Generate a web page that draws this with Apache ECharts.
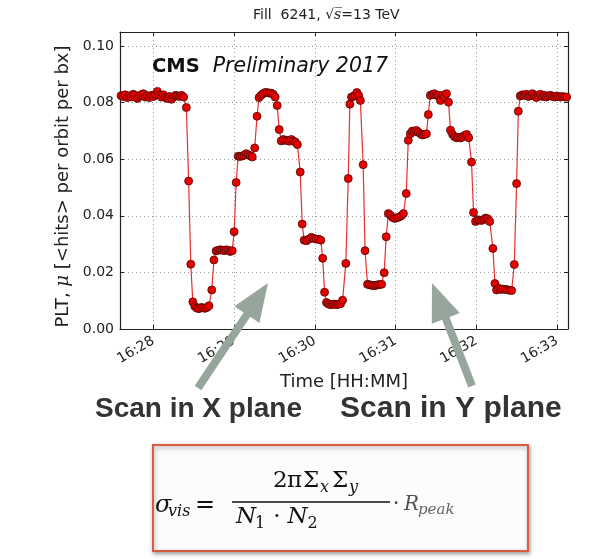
<!DOCTYPE html>
<html>
<head>
<meta charset="utf-8">
<script src="https://cdn.jsdelivr.net/npm/echarts@6/dist/echarts.min.js"></script>
<style>
  html, body { margin: 0; padding: 0; background: #fff; }
  #chart { width: 616px; height: 559px; }
</style>
</head>
<body>
<div id="chart"></div>
<script>
// seconds after 16:28:00
const timeSec = [
  -24.0, -22.5, -21.0, -19.5, -18.0, -16.5, -15.0, -13.5, -12.0, -10.5, -9.0, -7.5, -6.0, -4.5, -3.0, -1.5,
  0.0, 1.5, 3.0, 4.5, 6.0, 7.5, 9.0, 10.5, 12.0, 13.5, 15.0, 16.5, 18.0, 19.5, 21.0, 22.5,
  24.5, 26.2, 27.8, 29.3,
  30.8, 32.3, 33.8, 35.3, 36.8, 38.3, 39.8, 41.3,
  43.4, 45.0,
  46.6, 48.1, 49.6, 51.1, 52.6, 54.1, 55.6, 57.1, 58.6,
  60.0, 61.5,
  63.0, 64.5, 66.0, 67.5, 69.0, 70.5, 72.0, 73.5,
  75.3, 77.0,
  78.5, 80.0, 81.5, 83.0, 84.5, 86.0, 87.5, 89.0, 90.5,
  92.0, 93.5,
  95.0, 96.5, 98.0, 99.5, 101.0, 102.5, 104.0, 105.5, 107.0,
  109.1, 110.6,
  112.0, 113.8, 115.6, 117.4, 119.2, 121.0, 122.8, 124.4,
  125.8, 127.2,
  128.6, 130.1, 131.6, 133.1, 134.6, 136.1, 137.6, 139.1, 140.6,
  143.0, 144.8, 146.0,
  147.2, 148.5, 149.8, 151.2, 152.5, 153.8,
  155.9, 157.3,
  159.1, 160.6, 162.1, 163.6, 165.1, 166.6, 168.1, 169.6,
  171.5, 173.0,
  174.6, 176.2, 177.8, 179.4, 181.0, 182.6, 184.2, 185.8,
  187.9,
  189.4, 190.9, 192.4, 193.9, 195.4, 196.9, 198.4, 199.9, 201.4, 202.9,
  204.3,
  205.8, 207.3, 208.8, 210.3, 211.8, 213.3, 214.8, 216.3, 217.8, 219.3,
  220.8,
  222.3, 223.8, 225.3, 226.8, 228.3, 229.8, 231.3, 232.8, 234.3,
  236.4, 237.9,
  239.4, 240.9, 242.4, 243.9, 245.4, 246.9, 248.4, 249.9,
  252.3, 253.8,
  255.0, 256.6, 258.2, 259.8, 261.4, 263.0, 264.6, 266.2,
  268.2, 269.9, 271.2,
  272.6, 274.1, 275.6, 277.1, 278.6, 280.1, 281.6, 283.1, 284.6, 286.1, 287.6, 289.1,
  290.6, 292.1, 293.6, 295.1, 296.6, 298.1, 299.6, 301.1, 302.6, 304.1, 305.6, 307.1
]

// PLT mu values
const muVals = [
  0.0825, 0.0822, 0.0828, 0.0818, 0.0824, 0.0820, 0.0830, 0.0826, 0.0815, 0.0822, 0.0828, 0.0832, 0.0820, 0.0825, 0.0818, 0.0826,
  0.0822, 0.0830, 0.0840, 0.0826, 0.0820, 0.0828, 0.0818, 0.0815, 0.0822, 0.0812, 0.0820, 0.0826, 0.0824, 0.0822, 0.0826, 0.0820,
  0.0783, 0.0523, 0.0229, 0.0096,
  0.0080, 0.0074, 0.0072, 0.0076, 0.0075, 0.0073, 0.0076, 0.0082,
  0.0138, 0.0244,
  0.0276, 0.0278, 0.0280, 0.0279, 0.0277, 0.0280, 0.0278, 0.0274, 0.0277,
  0.0344, 0.0518,
  0.0611, 0.0610, 0.0612, 0.0614, 0.0620, 0.0616, 0.0612, 0.0608,
  0.0640, 0.0752,
  0.0818, 0.0826, 0.0832, 0.0836, 0.0836, 0.0834, 0.0834, 0.0830, 0.0820,
  0.0790, 0.0705,
  0.0665, 0.0670, 0.0667, 0.0667, 0.0664, 0.0670, 0.0665, 0.0661, 0.0652,
  0.0555, 0.0371,
  0.0314, 0.0312, 0.0318, 0.0324, 0.0320, 0.0318, 0.0317, 0.0314,
  0.0250, 0.0130,
  0.0094, 0.0088, 0.0086, 0.0087, 0.0088, 0.0086, 0.0088, 0.0089, 0.0102,
  0.0232, 0.0532, 0.0795,
  0.0820, 0.0822, 0.0826, 0.0836, 0.0826, 0.0808,
  0.0581, 0.0277,
  0.0158, 0.0156, 0.0155, 0.0153, 0.0154, 0.0156, 0.0157, 0.0158,
  0.0199, 0.0326,
  0.0408, 0.0402, 0.0394, 0.0391, 0.0393, 0.0396, 0.0400, 0.0408,
  0.0479,
  0.0667, 0.0690, 0.0700, 0.0698, 0.0702, 0.0696, 0.0690, 0.0686, 0.0688, 0.0690,
  0.0758,
  0.0826, 0.0829, 0.0832, 0.0826, 0.0826, 0.0808, 0.0826, 0.0820, 0.0832, 0.0802,
  0.0703,
  0.0688, 0.0680, 0.0676, 0.0678, 0.0675, 0.0680, 0.0684, 0.0688, 0.0676,
  0.0590, 0.0412,
  0.0380, 0.0386, 0.0385, 0.0384, 0.0387, 0.0392, 0.0390, 0.0380,
  0.0285, 0.0161,
  0.0138, 0.0144, 0.0140, 0.0141, 0.0140, 0.0139, 0.0137, 0.0136,
  0.0228, 0.0514, 0.0770,
  0.0824, 0.0828, 0.0826, 0.0830, 0.0822, 0.0826, 0.0832, 0.0824, 0.0818, 0.0826, 0.0830, 0.0822,
  0.0826, 0.0820, 0.0824, 0.0826, 0.0822, 0.0820, 0.0824, 0.0822, 0.0820, 0.0822, 0.0820, 0.0820
]

const yTicks = [0, 0.02, 0.04, 0.06, 0.08, 0.10]
const startHour = 16
const startMinute = 28
const xRangeSec = [-24.8, 308.1]

const chart = echarts.init(document.getElementById('chart'))

const seriesData = timeSec.map((t, i) => [t / 60, muVals[i]])

// grey annotation arrow as polygon (tail -> tip)
const arrowPoints = (x1, y1, x2, y2) => {
  const dx = x2 - x1, dy = y2 - y1
  const len = Math.sqrt(dx * dx + dy * dy)
  const ux = dx / len, uy = dy / len
  const nx = -uy, ny = ux
  const w = 4, hl = 38, hw = 15
  const bx = x2 - ux * hl, by = y2 - uy * hl
  return [
    [x1 + nx * w, y1 + ny * w],
    [bx + nx * w, by + ny * w],
    [bx + nx * hw, by + ny * hw],
    [x2, y2],
    [bx - nx * hw, by - ny * hw],
    [bx - nx * w, by - ny * w],
    [x1 - nx * w, y1 - ny * w]
  ]
}

const axisColor = '#222'
const gridLine = { show: true, lineStyle: { color: '#9a9a9a', type: [1, 3], width: 1 } }
const serif = "'DejaVu Serif', 'Liberation Serif', serif"
const bigFont = "'Liberation Sans', Arial, sans-serif"

// helper for formula glyph styles
const glyph = (size, width, extra) => Object.assign({
  fontSize: size, fontFamily: serif, fill: '#111', width: width, align: 'left'
}, extra || {})

const option = {
  animation: false,
  backgroundColor: '#fff',
  grid: { left: 120, right: 48, top: 32, bottom: 230, containLabel: false },
  xAxis: [
    {
      type: 'value',
      min: xRangeSec[0] / 60,
      max: xRangeSec[1] / 60,
      splitNumber: 5,
      position: 'bottom',
      axisLine: { show: true, lineStyle: { color: axisColor, width: 1.2 } },
      axisTick: { show: true, inside: true, length: 4, lineStyle: { color: axisColor } },
      axisLabel: {
        show: true, rotate: 30, margin: 11, fontSize: 14, color: '#222',
        fontFamily: 'DejaVu Sans', showMinLabel: false, showMaxLabel: false,
        formatter: v => startHour + ':' + (startMinute + Math.round(v))
      },
      splitLine: gridLine,
      name: 'Time [HH:MM]',
      nameLocation: 'middle',
      nameGap: 44,
      nameTextStyle: { fontSize: 18, color: '#222', fontFamily: 'DejaVu Sans' }
    },
    {
      type: 'value',
      min: xRangeSec[0] / 60,
      max: xRangeSec[1] / 60,
      splitNumber: 5,
      position: 'top',
      axisLine: { show: true, onZero: false, lineStyle: { color: axisColor, width: 1.2 } },
      axisTick: { show: true, inside: true, length: 4, lineStyle: { color: axisColor } },
      axisLabel: { show: false },
      splitLine: { show: false }
    }
  ],
  yAxis: [
    {
      type: 'value',
      min: yTicks[0],
      max: 0.105,
      interval: 0.02,
      position: 'left',
      axisLine: { show: true, onZero: false, lineStyle: { color: axisColor, width: 1.2 } },
      axisTick: { show: true, inside: true, length: 4, lineStyle: { color: axisColor } },
      axisLabel: {
        margin: 6, fontSize: 14, color: '#222', fontFamily: 'DejaVu Sans',
        showMaxLabel: false,
        formatter: v => v.toFixed(2)
      },
      splitLine: gridLine,
      name: 'PLT, {m|μ} [<hits> per orbit per bx]',
      nameLocation: 'middle',
      nameGap: 41,
      nameTextStyle: {
        fontSize: 18, color: '#222', fontFamily: 'DejaVu Sans',
        padding: [0, 12, 0, 0],
        rich: { m: { fontSize: 18, fontStyle: 'italic', fontFamily: 'DejaVu Serif', color: '#222' } }
      }
    },
    {
      type: 'value',
      min: yTicks[0],
      max: 0.105,
      interval: 0.02,
      position: 'right',
      axisLine: { show: true, onZero: false, lineStyle: { color: axisColor, width: 1.2 } },
      axisTick: { show: true, inside: true, length: 4, lineStyle: { color: axisColor } },
      axisLabel: { show: false },
      splitLine: { show: false }
    }
  ],
  series: [
    {
      type: 'line',
      data: seriesData,
      xAxisIndex: 0,
      yAxisIndex: 0,
      symbol: 'circle',
      symbolSize: 8,
      showSymbol: true,
      clip: true,
      lineStyle: { color: '#e8302e', width: 1.2 },
      itemStyle: { color: '#e60000', borderColor: '#4a0a05', borderWidth: 0.8 },
      emphasis: { disabled: true },
      z: 3
    }
  ],
  graphic: [
    {
      type: 'text', left: 253, top: 8,
      style: {
        text: '{n|Fill  6241, √}{i|s\u0305}{n|=13 TeV}',
        rich: {
          n: { fontSize: 14, fontFamily: 'DejaVu Sans', fill: '#222' },
          i: { fontSize: 14, fontFamily: 'DejaVu Serif', fontStyle: 'italic', fill: '#222' }
        }
      }
    },
    {
      type: 'text', left: 152, top: 57, z: 10,
      style: {
        text: '{b|CMS}{i|Preliminary 2017}',
        rich: {
          b: { fontSize: 19.5, fontWeight: 'bold', fontFamily: 'DejaVu Sans', fill: '#111' },
          i: { fontSize: 20.5, fontStyle: 'italic', fontFamily: 'DejaVu Sans', fill: '#111', padding: [0, 0, 0, 13] }
        }
      }
    },
    {
      type: 'polygon', z: 20,
      shape: { points: arrowPoints(198, 388, 268, 283) },
      style: { fill: '#97a69c' }
    },
    {
      type: 'polygon', z: 20,
      shape: { points: arrowPoints(472, 386, 432, 283) },
      style: { fill: '#97a69c' }
    },
    {
      type: 'text', left: 95, top: 395, z: 21,
      style: { text: 'Scan in X plane', fontSize: 28, fontWeight: 'bold', fontFamily: bigFont, fill: '#333' }
    },
    {
      type: 'text', left: 340, top: 394, z: 21,
      style: { text: 'Scan in Y plane', fontSize: 30, fontWeight: 'bold', fontFamily: bigFont, fill: '#333' }
    },
    {
      type: 'rect',
      shape: { x: 153, y: 445, width: 375, height: 106 },
      style: {
        fill: '#fcfcfc', stroke: '#d95b43', lineWidth: 2,
        shadowBlur: 4, shadowColor: 'rgba(0,0,0,0.35)', shadowOffsetX: 1, shadowOffsetY: 2
      }
    },
    {
      type: 'text', left: 155, top: 494, z: 30,
      style: {
        text: '{m|σ}{s|vis}',
        rich: {
          m: glyph(24, 13, { fontStyle: 'italic', lineHeight: 28 }),
          s: glyph(16, 26, { fontStyle: 'italic', lineHeight: 4, verticalAlign: 'bottom' })
        }
      }
    },
    {
      type: 'text', left: 195, top: 494, z: 30,
      style: { text: '=', fontSize: 24, fontFamily: serif, fill: '#111' }
    },
    {
      type: 'line', z: 30,
      shape: { x1: 232, y1: 502, x2: 390, y2: 502 },
      style: { stroke: '#111', lineWidth: 1.6 }
    },
    {
      type: 'text', left: 273, top: 470, z: 30,
      style: {
        text: '{a|2}{b|π}{c|Σ}{x|x}{c|Σ}{y|y}',
        rich: {
          a: glyph(23, 14, { lineHeight: 28 }),
          b: glyph(23, 16, { lineHeight: 28 }),
          c: glyph(23, 17, { lineHeight: 28 }),
          x: glyph(16, 12, { fontStyle: 'italic', lineHeight: 4, verticalAlign: 'bottom' }),
          y: glyph(16, 12, { fontStyle: 'italic', lineHeight: 4, verticalAlign: 'bottom' })
        }
      }
    },
    {
      type: 'text', left: 236, top: 506, z: 30,
      style: {
        text: '{n|N}{s|1}{d|·}{n|N}{s|2}',
        rich: {
          n: glyph(23, 19, { fontStyle: 'italic', lineHeight: 28 }),
          d: glyph(23, 22, { lineHeight: 28, align: 'center' }),
          s: glyph(16, 11, { lineHeight: 8, verticalAlign: 'bottom' })
        }
      }
    },
    {
      type: 'text', left: 393, top: 495, z: 30,
      style: {
        text: '{d|·}{m|R}{s|peak}',
        rich: {
          d: glyph(20, 11, { fill: '#333', lineHeight: 26 }),
          m: glyph(20, 14, { fontStyle: 'italic', fill: '#555', lineHeight: 26 }),
          s: glyph(15, 56, { fontStyle: 'italic', fill: '#666', lineHeight: 4, verticalAlign: 'bottom' })
        }
      }
    }
  ]
}

chart.setOption(option)
</script>
</body>
</html>
